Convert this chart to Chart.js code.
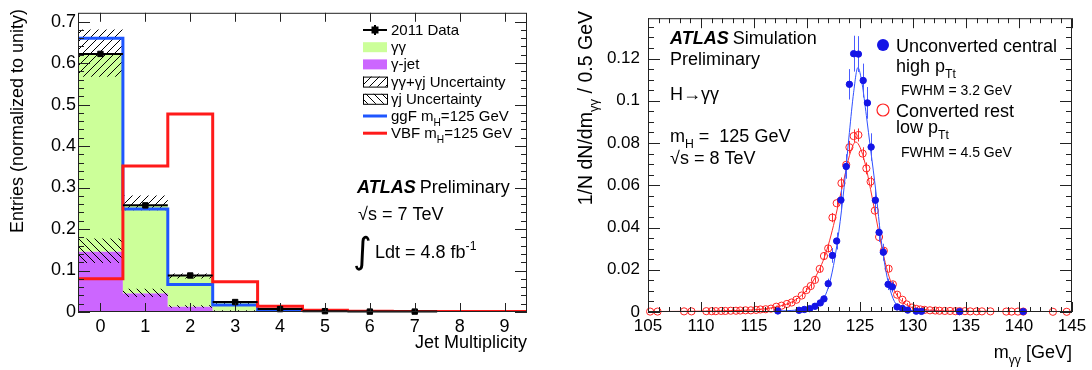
<!DOCTYPE html>
<html>
<head>
<meta charset="utf-8">
<script src="https://cdn.jsdelivr.net/npm/chart.js@4.4.1/dist/chart.umd.min.js"></script>
<style>
html, body { margin: 0; padding: 0; background: #fff; }
#wrap { position: relative; width: 1092px; height: 370px; }
.panel { position: absolute; top: 0; width: 546px; height: 370px; }
</style>
</head>
<body>
<div id="wrap">
  <div class="panel" style="left:0"><canvas id="jetChart"></canvas></div>
  <div class="panel" style="left:546px"><canvas id="massChart"></canvas></div>
</div>
<script>
// ---- Left panel: jet multiplicity (normalized) ----
const jetBins = [0, 1, 2, 3, 4, 5, 6, 7, 8, 9];
const gammaJetVals = [0.146, 0.045, 0.013, 0.003, 0.001, 0, 0, 0, 0, 0];
const gammaGammaTotal = [0.620, 0.257, 0.086, 0.022, 0.006, 0.0015, 0.0005, 0.0003, 0, 0];
const totUncLow = [0.567, 0.245, 0.081, 0.019, 0.005, 0.001, 0, 0, 0, 0];
const totUncHigh = [0.681, 0.281, 0.093, 0.025, 0.007, 0.002, 0, 0, 0, 0];
const gjUncLow = [0.118, 0.036, 0.010, 0.002, 0, 0, 0, 0, 0, 0];
const gjUncHigh = [0.177, 0.056, 0.016, 0.004, 0, 0, 0, 0, 0, 0];
const ggfVals = [0.660, 0.248, 0.066, 0.017, 0.005, 0.002, 0.001, 0.0005, 0, 0];
const vbfVals = [0.080, 0.352, 0.477, 0.073, 0.014, 0.004, 0.002, 0.001, 0.001, 0.001];
const dataVals = [0.622, 0.257, 0.088, 0.024, 0.007, 0.002, 0.001, 0.001];
const dataErr = [0.004, 0.003, 0.002, 0.001, 0.001, 0.001, 0.001, 0.001];
const jetYTicks = [0, 0.1, 0.2, 0.3, 0.4, 0.5, 0.6, 0.7];

// ---- Right panel: diphoton mass ----
const blueMass = [117.25, 119.25, 119.75, 120.25, 120.75, 121.25, 121.6, 122.0, 122.4, 122.8,
                  123.2, 123.7, 124.0, 124.4, 124.85, 125.3, 125.7, 126.05, 126.45, 126.8,
                  127.2, 127.65, 128.05, 128.5, 129.0, 129.5, 130.3, 130.8, 134.4, 140.4];
const blueVals = [0.0005, 0.0008, 0.0012, 0.0016, 0.0027, 0.0043, 0.0062, 0.0134, 0.0268, 0.0336,
                  0.0530, 0.0689, 0.1078, 0.1223, 0.1221, 0.1096, 0.0990, 0.0781, 0.0529, 0.0377,
                  0.0283, 0.0131, 0.0119, 0.0024, 0.0017, 0.0009, 0.0004, 0.0003, 0.0002, 0.0002];
const blueErr = [0.0004, 0.0005, 0.0006, 0.0007, 0.0009, 0.0012, 0.0015, 0.0024, 0.0035, 0.004,
                 0.005, 0.0058, 0.0072, 0.0085, 0.0085, 0.008, 0.0075, 0.0065, 0.0055, 0.0045,
                 0.004, 0.0027, 0.0026, 0.0011, 0.0009, 0.0006, 0.0004, 0.0003, 0.0003, 0.0003];
const redMass = [105.2, 105.9, 108.4, 109.1, 110.5, 111.0, 111.4, 111.9, 112.3, 112.8,
                 113.3, 113.7, 114.2, 114.7, 115.2, 115.6, 116.1, 116.6, 117.1, 117.6,
                 118.1, 118.55, 119.0, 119.5, 119.95, 120.35, 120.75, 121.2, 121.6, 122.0,
                 122.4, 122.8, 123.25, 123.7, 124.0, 124.4, 124.85, 125.25, 125.6, 126.0,
                 126.4, 126.8, 127.25, 127.7, 128.1, 128.5, 129.0, 129.4, 129.9, 130.3,
                 130.7, 131.1, 131.6, 132.1, 132.5, 133.0, 133.5, 134.0, 134.4, 134.9,
                 135.4, 136.0, 136.5, 137.3, 138.8, 139.3, 139.9, 140.4, 143.2, 144.5];
const redVals = [0.0002, 0.0002, 0.0003, 0.0003, 0.0004, 0.0004, 0.0004, 0.0005, 0.0005, 0.0006,
                 0.0006, 0.0007, 0.0008, 0.0008, 0.001, 0.0012, 0.0013, 0.0016, 0.0025, 0.003,
                 0.0038, 0.0045, 0.0058, 0.0078, 0.0104, 0.0123, 0.0152, 0.0204, 0.0265, 0.0301,
                 0.0447, 0.0515, 0.061, 0.0697, 0.078, 0.0833, 0.0838, 0.075, 0.068, 0.0617,
                 0.048, 0.0355, 0.029, 0.0205, 0.0131, 0.0082, 0.0058, 0.0036, 0.0021, 0.0015,
                 0.0012, 0.001, 0.0008, 0.0007, 0.0006, 0.0005, 0.0005, 0.0004, 0.0004, 0.0004,
                 0.0003, 0.0003, 0.0003, 0.0003, 0.0002, 0.0002, 0.0002, 0.0002, 0.0001, 0.0001];
const redErr = [0.0002, 0.0002, 0.0002, 0.0002, 0.0002, 0.0002, 0.0002, 0.0002, 0.0002, 0.0002,
                0.0002, 0.0002, 0.0002, 0.0002, 0.0003, 0.0003, 0.0003, 0.0003, 0.0005, 0.0005,
                0.0006, 0.0006, 0.0008, 0.001, 0.001, 0.0012, 0.0013, 0.0015, 0.0017, 0.0018,
                0.0022, 0.0024, 0.0027, 0.0028, 0.003, 0.0031, 0.0031, 0.003, 0.0028, 0.0027,
                0.0023, 0.002, 0.0018, 0.0015, 0.0012, 0.001, 0.0008, 0.0006, 0.0005, 0.0004,
                0.0003, 0.0003, 0.0003, 0.0003, 0.0002, 0.0002, 0.0002, 0.0002, 0.0002, 0.0002,
                0.0002, 0.0002, 0.0002, 0.0002, 0.0002, 0.0002, 0.0002, 0.0002, 0.0002, 0.0002];
const blueFitMass = [117, 118, 119, 120, 120.5, 121, 121.5, 122, 122.5, 123, 123.5, 124, 124.4, 124.8,
                     125.2, 125.6, 126, 126.5, 127, 127.5, 128, 128.5, 129, 129.5, 130, 131, 135, 141];
const blueFitVals = [0.0004, 0.0006, 0.0009, 0.0016, 0.0024, 0.0036, 0.0058, 0.0115, 0.022, 0.038, 0.059, 0.085, 0.104, 0.1157,
                     0.108, 0.093, 0.077, 0.057, 0.034, 0.018, 0.008, 0.003, 0.0015, 0.0009, 0.0006, 0.0004, 0.0002, 0.0001];
const redFitMass = [105, 108, 110, 112, 114, 115, 116, 117, 118, 118.5, 119, 119.5, 120, 120.5, 121, 121.5, 122, 122.5,
                    123, 123.5, 124, 124.6, 125, 125.5, 126, 126.5, 127, 127.5, 128, 128.5, 129, 129.5, 130, 131,
                    132, 134, 137, 140, 145];
const redFitVals = [0.0002, 0.0003, 0.0004, 0.0005, 0.0008, 0.001, 0.0015, 0.0023, 0.0036, 0.0046, 0.006, 0.008, 0.0105,
                    0.014, 0.0185, 0.024, 0.0315, 0.041, 0.052, 0.063, 0.074, 0.0805, 0.078, 0.070, 0.058, 0.045, 0.032,
                    0.021, 0.013, 0.0078, 0.0048, 0.003, 0.002, 0.0011, 0.0007, 0.0004, 0.0003, 0.0002, 0.0001];
const massXTicks = [105, 110, 115, 120, 125, 130, 135, 140, 145];
const massYTicks = [0, 0.02, 0.04, 0.06, 0.08, 0.1, 0.12];

const FONT = "'Liberation Sans', Arial, Helvetica, sans-serif";
const fmt = v => String(+Number(v).toFixed(3));

// histogram outline: two points per bin (left and right edge)
function histPoints(vals) {
    const pts = [];
    vals.forEach((v, i) => {
        pts.push({ x: jetBins[i] - 0.5, y: v });
        pts.push({ x: jetBins[i] + 0.5, y: v });
    });
    return pts;
}

function xy(xs, ys) {
    return xs.map((x, i) => ({ x: x, y: ys[i] }));
}

function makeHatch(dir) {
    const c = document.createElement('canvas');
    c.width = 8; c.height = 8;
    const g = c.getContext('2d');
    g.strokeStyle = '#000';
    g.lineWidth = 1;
    g.beginPath();
    if (dir > 0) {
        g.moveTo(0, 8); g.lineTo(8, 0);
        g.moveTo(-1, 1); g.lineTo(1, -1);
        g.moveTo(7, 9); g.lineTo(9, 7);
    } else {
        g.moveTo(0, 0); g.lineTo(8, 8);
        g.moveTo(-1, 7); g.lineTo(1, 9);
        g.moveTo(7, -1); g.lineTo(9, 1);
    }
    g.stroke();
    return g.createPattern(c, 'repeat');
}
const hatchUp = makeHatch(1);
const hatchDown = makeHatch(-1);

// text with sub/superscripts: parts = [[text, kind]]
function richText(ctx, x, y, parts, size, align, weight) {
    const fonts = parts.map(p => {
        const s = (p[1] === 'sub' || p[1] === 'sup') ? size * 0.68 : size;
        return (weight || '') + ' ' + s + 'px ' + FONT;
    });
    const widths = parts.map((p, i) => { ctx.font = fonts[i]; return ctx.measureText(p[0]).width; });
    const total = widths.reduce((a, b) => a + b, 0);
    let cx = align === 'right' ? x - total : x;
    ctx.textAlign = 'left';
    parts.forEach((p, i) => {
        ctx.font = fonts[i];
        const dy = p[1] === 'sub' ? size * 0.32 : (p[1] === 'sup' ? -size * 0.45 : 0);
        ctx.fillText(p[0], cx, y + dy);
        cx += widths[i];
    });
    return total;
}

// ROOT style frame with inward ticks on all four sides
const frameTicks = {
    id: 'frameTicks',
    afterDatasetsDraw(chart, args, o) {
        const { ctx, chartArea: a, scales: { x, y } } = chart;
        ctx.save();
        ctx.strokeStyle = '#222';
        ctx.lineWidth = 1;
        ctx.beginPath();
        const xt = (vals, len) => vals.forEach(v => {
            const px = Math.round(x.getPixelForValue(v)) + 0.5;
            ctx.moveTo(px, a.bottom); ctx.lineTo(px, a.bottom - len);
            ctx.moveTo(px, a.top); ctx.lineTo(px, a.top + len);
        });
        const yt = (vals, len) => vals.forEach(v => {
            const py = Math.round(y.getPixelForValue(v)) + 0.5;
            ctx.moveTo(a.left, py); ctx.lineTo(a.left + len, py);
            ctx.moveTo(a.right, py); ctx.lineTo(a.right - len, py);
        });
        xt(o.xMajor, o.xMajLen);
        xt(o.xMinor || [], o.xMinLen || 0);
        yt(o.yMajor, o.yMajLen);
        yt(o.yMinor || [], o.yMinLen || 0);
        ctx.stroke();
        ctx.strokeRect(a.left + 0.5, a.top + 0.5, a.right - a.left - 1, a.bottom - a.top - 1);
        ctx.restore();
    }
};

// ---------------- left chart ----------------
const leftMinorY = [];
for (let v = 0.02; v < 0.72; v += 0.02) leftMinorY.push(v);

const leftText = {
    id: 'leftText',
    beforeDatasetDraw(chart, args) {
        if (args.index !== 0) return;
        const { ctx, scales: { x, y } } = chart;
        ctx.save();
        ctx.strokeStyle = '#000';
        ctx.lineWidth = 2;
        ctx.beginPath();
        dataVals.forEach((v, i) => {
            const py = y.getPixelForValue(v);
            const px = x.getPixelForValue(jetBins[i]);
            ctx.moveTo(x.getPixelForValue(jetBins[i] - 0.5), py);
            ctx.lineTo(x.getPixelForValue(jetBins[i] + 0.5), py);
            ctx.moveTo(px, y.getPixelForValue(v - dataErr[i]));
            ctx.lineTo(px, y.getPixelForValue(v + dataErr[i]));
        });
        ctx.stroke();
        ctx.restore();
    },
    afterDraw(chart) {
        const ctx = chart.ctx;
        ctx.save();
        ctx.fillStyle = '#000';
        ctx.textBaseline = 'alphabetic';

        // axis titles
        ctx.save();
        ctx.translate(23, 9);
        ctx.rotate(-Math.PI / 2);
        richText(ctx, 0, 0, [['Entries (normalized to unity)', '']], 18, 'right');
        ctx.restore();
        richText(ctx, 527, 348, [['Jet Multiplicity', '']], 18, 'right');

        // legend
        const rows = [30, 47.2, 64.4, 81.6, 98.8, 116, 133.2];
        const bx = 363, bw = 24, tx = 391;
        ctx.strokeStyle = '#000';
        ctx.lineWidth = 2;
        ctx.beginPath();
        ctx.moveTo(bx, rows[0]); ctx.lineTo(bx + bw, rows[0]);
        ctx.moveTo(bx + bw / 2, rows[0] - 5); ctx.lineTo(bx + bw / 2, rows[0] + 5);
        ctx.stroke();
        ctx.fillRect(bx + bw / 2 - 3.5, rows[0] - 3.5, 7, 7);
        ctx.fillStyle = '#ccff99';
        ctx.fillRect(bx, rows[1] - 5, bw, 10);
        ctx.fillStyle = '#cc66ff';
        ctx.fillRect(bx, rows[2] - 5, bw, 10);
        ctx.lineWidth = 1;
        ctx.fillStyle = hatchUp;
        ctx.fillRect(bx, rows[3] - 5, bw, 10);
        ctx.strokeRect(bx + 0.5, rows[3] - 4.5, bw, 10);
        ctx.fillStyle = hatchDown;
        ctx.fillRect(bx, rows[4] - 5, bw, 10);
        ctx.strokeRect(bx + 0.5, rows[4] - 4.5, bw, 10);
        ctx.lineWidth = 3;
        ctx.strokeStyle = '#1f56ff';
        ctx.beginPath(); ctx.moveTo(bx, rows[5]); ctx.lineTo(bx + bw, rows[5]); ctx.stroke();
        ctx.strokeStyle = '#ff1a1a';
        ctx.beginPath(); ctx.moveTo(bx, rows[6]); ctx.lineTo(bx + bw, rows[6]); ctx.stroke();

        ctx.fillStyle = '#000';
        const labels = [
            [['2011 Data', '']],
            [['γγ', '']],
            [['γ-jet', '']],
            [['γγ+γj Uncertainty', '']],
            [['γj Uncertainty', '']],
            [['ggF m', ''], ['H', 'sub'], ['=125 GeV', '']],
            [['VBF m', ''], ['H', 'sub'], ['=125 GeV', '']]
        ];
        labels.forEach((p, i) => richText(ctx, tx, rows[i] + 5, p, 15, 'left'));

        // ATLAS label
        const w = richText(ctx, 357, 193, [['ATLAS', '']], 18, 'left', 'italic bold');
        richText(ctx, 357 + w + 4, 193, [['Preliminary', '']], 18, 'left');
        richText(ctx, 358, 220, [['√s = 7 TeV', '']], 18, 'left');
        ctx.font = "36px 'DejaVu Sans', sans-serif";
        ctx.fillText('∫', 353, 263);
        richText(ctx, 375, 258, [['Ldt = 4.8 fb', ''], ['-1', 'sup']], 18, 'left');
        ctx.restore();
    }
};

new Chart(document.getElementById('jetChart'), {
    type: 'line',
    data: {
        datasets: [
            { label: '2011 Data', data: xy(jetBins.slice(0, dataVals.length), dataVals), showLine: false,
              pointStyle: 'rect', pointRadius: 3.8, pointBackgroundColor: '#000', pointBorderColor: '#000',
              borderColor: '#000', clip: false },
            { label: 'VBF', data: histPoints(vbfVals), borderColor: '#ff1a1a', borderWidth: 3,
              pointRadius: 0, fill: false, tension: 0 },
            { label: 'ggF', data: histPoints(ggfVals), borderColor: '#1f56ff', borderWidth: 3,
              pointRadius: 0, fill: false, tension: 0 },
            { label: 'γγ+γj Uncertainty', data: histPoints(totUncHigh), borderColor: 'rgba(0,0,0,0)',
              borderWidth: 1, pointRadius: 0, fill: '+1', backgroundColor: hatchUp },
            { label: 'tot low', data: histPoints(totUncLow), borderColor: 'rgba(0,0,0,0)',
              borderWidth: 1, pointRadius: 0, fill: false },
            { label: 'γj Uncertainty', data: histPoints(gjUncHigh), borderColor: 'rgba(0,0,0,0)',
              borderWidth: 1, pointRadius: 0, fill: '+1', backgroundColor: hatchDown },
            { label: 'gj low', data: histPoints(gjUncLow), borderColor: 'rgba(0,0,0,0)',
              borderWidth: 1, pointRadius: 0, fill: false },
            { label: 'γγ', data: histPoints(gammaGammaTotal), borderColor: 'rgba(0,0,0,0)',
              borderWidth: 1, pointRadius: 0, fill: '+1', backgroundColor: '#ccff99' },
            { label: 'γ-jet', data: histPoints(gammaJetVals), borderColor: 'rgba(0,0,0,0)',
              borderWidth: 1, pointRadius: 0, fill: 'origin', backgroundColor: '#cc66ff' }
        ]
    },
    options: {
        responsive: true,
        maintainAspectRatio: false,
        animation: false,
        events: [],
        layout: { padding: { top: 7, right: 19, left: 0, bottom: 0 } },
        plugins: {
            legend: { display: false },
            tooltip: { enabled: false },
            frameTicks: { xMajor: jetBins, xMajLen: 9, yMajor: jetYTicks, yMajLen: 12, yMinor: leftMinorY, yMinLen: 6 }
        },
        scales: {
            x: {
                type: 'linear', min: -0.5, max: 9.5,
                afterBuildTicks: s => { s.ticks = jetBins.map(v => ({ value: v })); },
                afterFit: s => { s.height = 58; },
                grid: { display: false, drawTicks: false },
                border: { display: false },
                ticks: { autoSkip: false, maxRotation: 0, padding: 4, color: '#000',
                         font: { family: FONT, size: 18 }, callback: v => fmt(v) }
            },
            y: {
                min: 0, max: 0.7211,
                afterBuildTicks: s => { s.ticks = jetYTicks.map(v => ({ value: v })); },
                afterFit: s => { s.width = 78; },
                grid: { display: false, drawTicks: false },
                border: { display: false },
                ticks: { padding: 2, color: '#000', font: { family: FONT, size: 18 }, callback: v => fmt(v) }
            }
        }
    },
    plugins: [frameTicks, leftText]
});

// ---------------- right chart ----------------
const massMinorX = [];
for (let v = 106; v < 145; v++) massMinorX.push(v);
const massMinorY = [];
for (let v = 0.005; v < 0.138; v += 0.005) massMinorY.push(v);

function drawErr(chart, xs, ys, es, color) {
    const { ctx, scales: { x, y } } = chart;
    ctx.save();
    ctx.strokeStyle = color;
    ctx.lineWidth = 1;
    ctx.beginPath();
    xs.forEach((m, i) => {
        const px = Math.round(x.getPixelForValue(m)) + 0.5;
        ctx.moveTo(px, y.getPixelForValue(ys[i] - es[i]));
        ctx.lineTo(px, y.getPixelForValue(ys[i] + es[i]));
    });
    ctx.stroke();
    ctx.restore();
}

const rightText = {
    id: 'rightText',
    beforeDatasetDraw(chart, args) {
        if (args.index === 0) drawErr(chart, blueMass, blueVals, blueErr, '#4a5cff');
        if (args.index === 2) drawErr(chart, redMass, redVals, redErr, '#ff3030');
    },
    afterDraw(chart) {
        const ctx = chart.ctx;
        ctx.save();
        ctx.fillStyle = '#000';
        ctx.textBaseline = 'alphabetic';

        ctx.save();
        ctx.translate(46, 11);
        ctx.rotate(-Math.PI / 2);
        richText(ctx, 0, 0, [['1/N dN/dm', ''], ['γγ', 'sub'], [' / 0.5 GeV', '']], 19.5, 'right');
        ctx.restore();
        richText(ctx, 526, 358, [['m', ''], ['γγ', 'sub'], [' [GeV]', '']], 18, 'right');

        const w = richText(ctx, 124, 44, [['ATLAS', '']], 18, 'left', 'italic bold');
        richText(ctx, 124 + w + 4, 44, [['Simulation', '']], 18, 'left');
        richText(ctx, 124, 65, [['Preliminary', '']], 18, 'left');
        richText(ctx, 124, 100, [['H→γγ', '']], 18, 'left');
        richText(ctx, 124, 142, [['m', ''], ['H', 'sub'], [' =  125 GeV', '']], 18, 'left');
        richText(ctx, 124, 164, [['√s = 8 TeV', '']], 18, 'left');

        // legend
        ctx.fillStyle = '#1414e6';
        ctx.beginPath(); ctx.arc(337, 45, 6, 0, Math.PI * 2); ctx.fill();
        ctx.strokeStyle = '#ff2222';
        ctx.lineWidth = 1.2;
        ctx.beginPath(); ctx.arc(337, 110, 6, 0, Math.PI * 2); ctx.stroke();
        ctx.fillStyle = '#000';
        richText(ctx, 350, 52, [['Unconverted central', '']], 18, 'left');
        richText(ctx, 350, 72, [['high p', ''], ['Tt', 'sub']], 18, 'left');
        richText(ctx, 355, 95, [['FWHM = 3.2 GeV', '']], 14, 'left');
        richText(ctx, 350, 117, [['Converted rest', '']], 18, 'left');
        richText(ctx, 350, 133, [['low p', ''], ['Tt', 'sub']], 18, 'left');
        richText(ctx, 355, 157, [['FWHM = 4.5 GeV', '']], 14, 'left');
        ctx.restore();
    }
};

new Chart(document.getElementById('massChart'), {
    type: 'line',
    data: {
        datasets: [
            { label: 'Unconverted central high pTt', data: xy(blueMass, blueVals), showLine: false,
              pointRadius: 3.2, pointBackgroundColor: '#1414e6', pointBorderColor: '#1414e6',
              pointBorderWidth: 1, clip: false },
            { label: 'fit unconverted', data: xy(blueFitMass, blueFitVals), borderColor: '#3050ff',
              borderWidth: 1, pointRadius: 0, fill: false, cubicInterpolationMode: 'monotone' },
            { label: 'Converted rest low pTt', data: xy(redMass, redVals), showLine: false,
              pointRadius: 3.6, pointBackgroundColor: 'rgba(0,0,0,0)', pointBorderColor: '#ff2222',
              pointBorderWidth: 1, clip: false },
            { label: 'fit converted', data: xy(redFitMass, redFitVals), borderColor: '#ff2a2a',
              borderWidth: 1, pointRadius: 0, fill: false, cubicInterpolationMode: 'monotone' }
        ]
    },
    options: {
        responsive: true,
        maintainAspectRatio: false,
        animation: false,
        events: [],
        layout: { padding: { top: 7, right: 20, left: 0, bottom: 0 } },
        plugins: {
            legend: { display: false },
            tooltip: { enabled: false },
            frameTicks: { xMajor: massXTicks, xMajLen: 10, xMinor: massMinorX, xMinLen: 5,
                          yMajor: massYTicks, yMajLen: 12, yMinor: massMinorY, yMinLen: 6 }
        },
        scales: {
            x: {
                type: 'linear', min: 105, max: 145,
                afterBuildTicks: s => { s.ticks = massXTicks.map(v => ({ value: v })); },
                afterFit: s => { s.height = 58; },
                grid: { display: false, drawTicks: false },
                border: { display: false },
                ticks: { autoSkip: false, maxRotation: 0, padding: 4, color: '#000',
                         font: { family: FONT, size: 17 }, callback: v => fmt(v) }
            },
            y: {
                min: 0, max: 0.1391,
                afterBuildTicks: s => { s.ticks = massYTicks.map(v => ({ value: v })); },
                afterFit: s => { s.width = 102; },
                grid: { display: false, drawTicks: false },
                border: { display: false },
                ticks: { padding: 8, color: '#000', font: { family: FONT, size: 17 }, callback: v => fmt(v) }
            }
        }
    },
    plugins: [frameTicks, rightText]
});
</script>
</body>
</html>
